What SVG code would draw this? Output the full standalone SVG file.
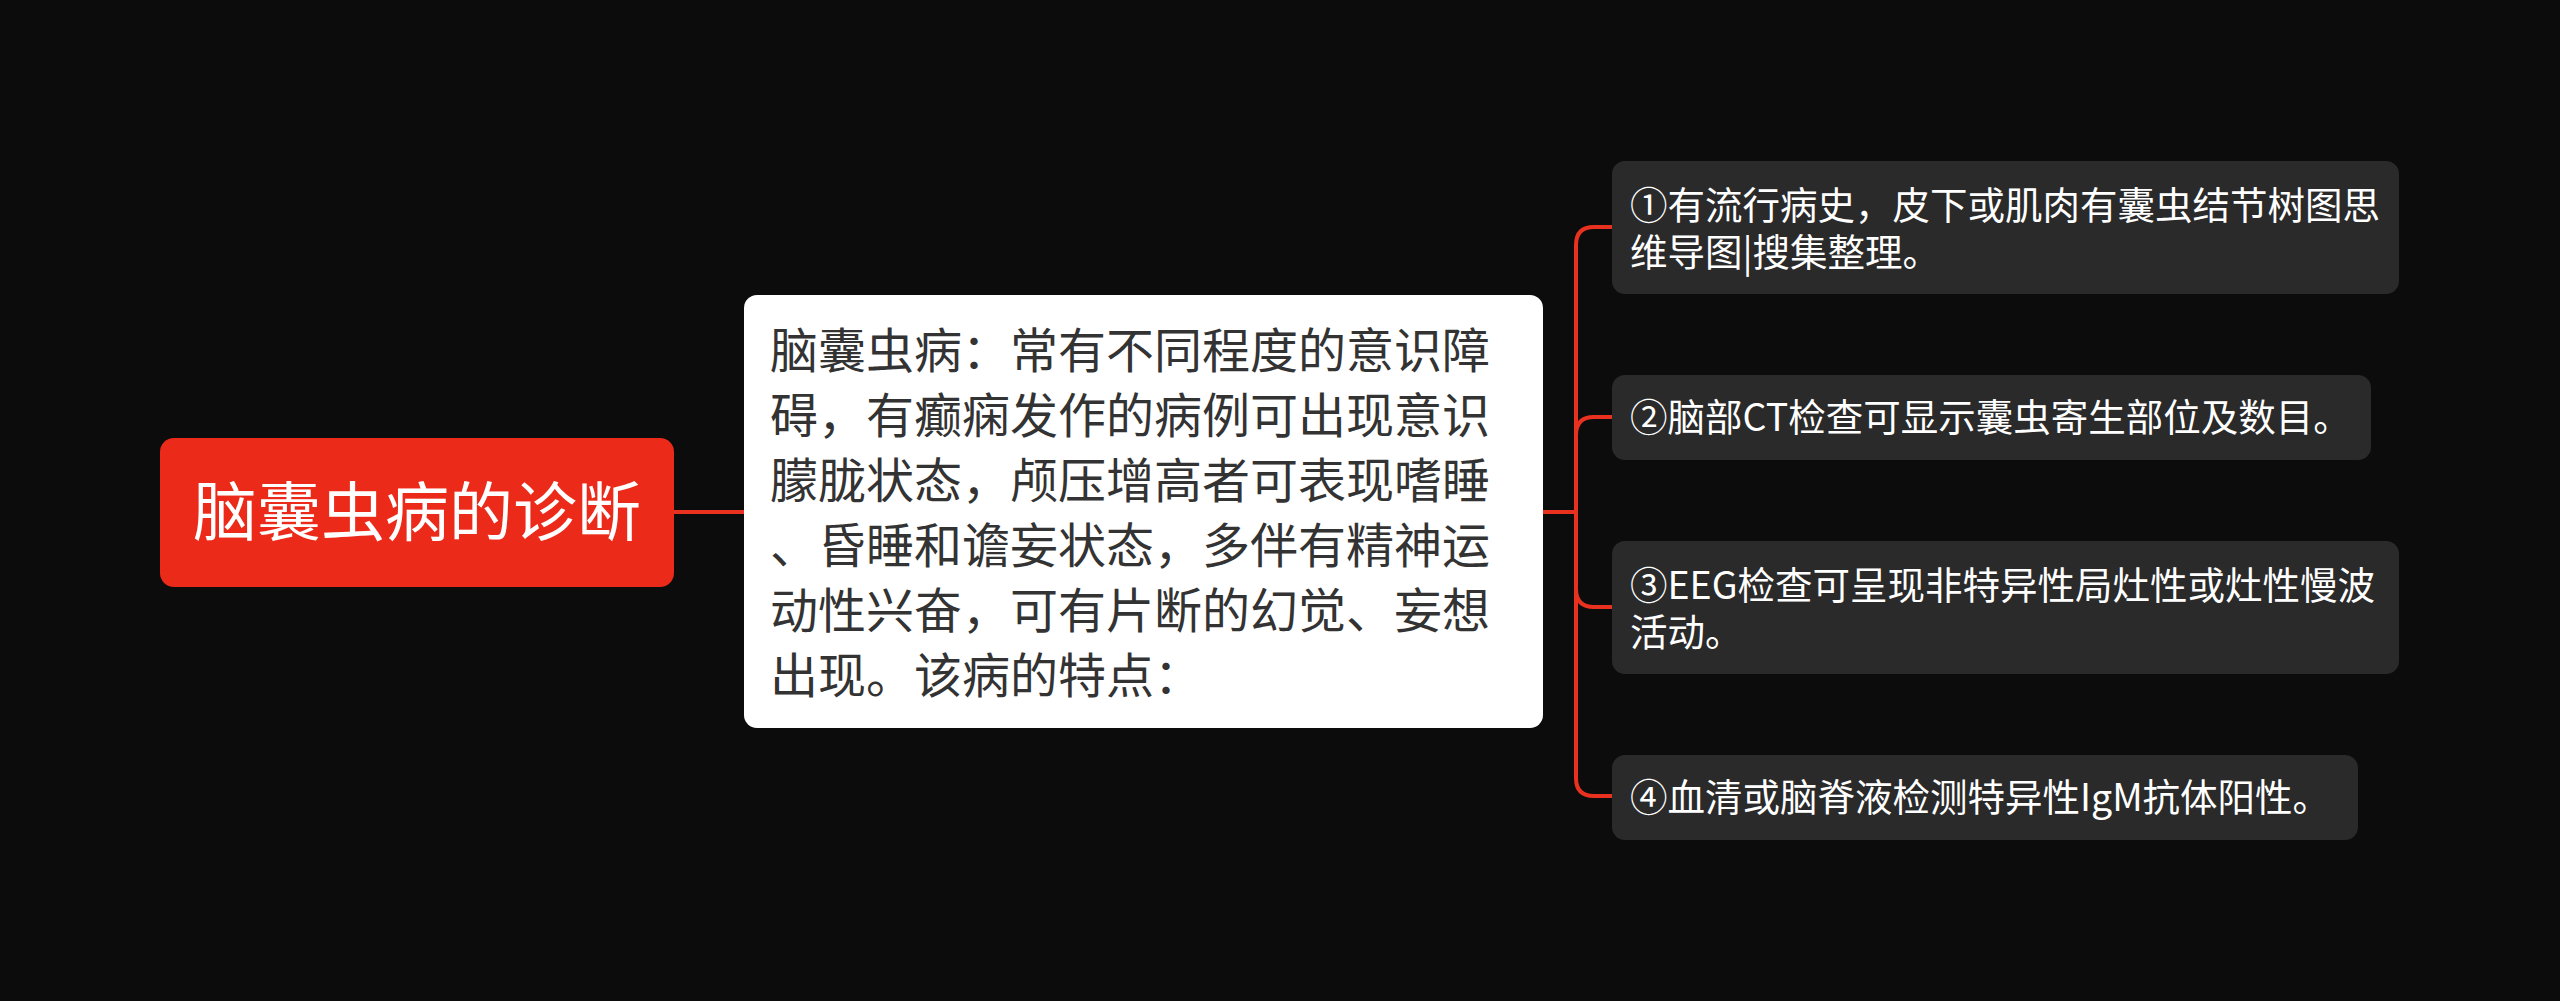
<svg xmlns="http://www.w3.org/2000/svg" width="2560" height="1001" viewBox="0 0 2560 1001">
<style>
  text { font-family: "Noto Sans CJK SC", "Noto Sans", sans-serif; }
  .root-box { fill: #ec2a1a; }
  .root-text { fill: #ffffff; font-size: 64px; }
  .mid-box { fill: #ffffff; }
  .mid-text { fill: #333333; font-size: 48px; }
  .leaf-box { fill: #2a2a2a; }
  .leaf-text { fill: #ffffff; font-size: 37.5px; }
  .conn { fill: none; stroke: #e8321f; stroke-width: 4; }
</style>
<rect x="0" y="0" width="2560" height="1001" fill="#0c0c0c"/>
<g id="connectors">
  <path class="conn" d="M674,512 H744"/>
  <path class="conn" d="M1543,512 H1576"/>
  <path class="conn" d="M1613,227 H1594 Q1576,227 1576,245 V778 Q1576,796 1594,796 H1613"/>
  <path class="conn" d="M1613,417 H1594 Q1576,417 1576,435 V512"/>
  <path class="conn" d="M1613,607 H1594 Q1576,607 1576,589 V512"/>
</g>
<g id="root">
  <rect class="root-box" x="160" y="438" width="514" height="149" rx="14"/>
  <text class="root-text" x="417" y="535" text-anchor="middle">脑囊虫病的诊断</text>
</g>
<g id="middle">
  <rect class="mid-box" x="744" y="295" width="799" height="433" rx="13"/>
  <text class="mid-text">
    <tspan x="770" y="368">脑囊虫病：常有不同程度的意识障</tspan>
    <tspan x="770" y="433">碍，有癫痫发作的病例可出现意识</tspan>
    <tspan x="770" y="498">朦胧状态，颅压增高者可表现嗜睡</tspan>
    <tspan x="770" y="563">、昏睡和谵妄状态，多伴有精神运</tspan>
    <tspan x="770" y="628">动性兴奋，可有片断的幻觉、妄想</tspan>
    <tspan x="770" y="693">出现。该病的特点：</tspan>
  </text>
</g>
<g id="leaf1">
  <rect class="leaf-box" x="1612" y="161" width="787" height="133" rx="13"/>
  <text class="leaf-text">
    <tspan x="1630" y="219">①有流行病史，皮下或肌肉有囊虫结节树图思</tspan>
    <tspan x="1630" y="266">维导图|搜集整理。</tspan>
  </text>
</g>
<g id="leaf2">
  <rect class="leaf-box" x="1612" y="375" width="759" height="85" rx="13"/>
  <text class="leaf-text" x="1630" y="431">②脑部CT检查可显示囊虫寄生部位及数目。</text>
</g>
<g id="leaf3">
  <rect class="leaf-box" x="1612" y="541" width="787" height="133" rx="13"/>
  <text class="leaf-text">
    <tspan x="1630" y="599">③EEG检查可呈现非特异性局灶性或灶性慢波</tspan>
    <tspan x="1630" y="646">活动。</tspan>
  </text>
</g>
<g id="leaf4">
  <rect class="leaf-box" x="1612" y="755" width="746" height="85" rx="13"/>
  <text class="leaf-text" x="1630" y="811">④血清或脑脊液检测特异性IgM抗体阳性。</text>
</g>
</svg>
